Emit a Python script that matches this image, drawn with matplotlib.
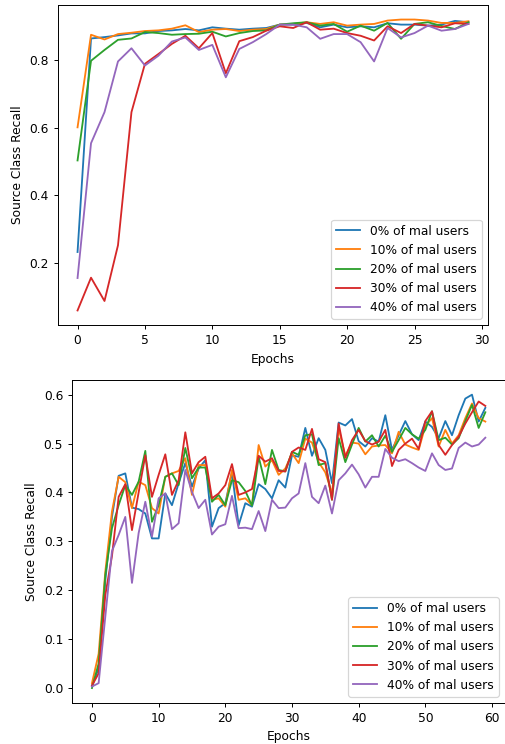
import matplotlib
matplotlib.use("Agg")
import matplotlib.pyplot as plt
import numpy as np

labels = ["0% of mal users", "10% of mal users", "20% of mal users",
          "30% of mal users", "40% of mal users"]

# Upper chart: 30 epochs
epochs_top = np.arange(30)
top_0 = [0.232, 0.864, 0.868, 0.873, 0.879, 0.879, 0.886, 0.888, 0.892, 0.888,
         0.897, 0.893, 0.890, 0.893, 0.895, 0.905, 0.905, 0.910, 0.897, 0.905,
         0.897, 0.900, 0.897, 0.909, 0.905, 0.905, 0.902, 0.905, 0.916, 0.912]
top_10 = [0.601, 0.875, 0.861, 0.877, 0.881, 0.886, 0.888, 0.893, 0.903, 0.883,
          0.890, 0.892, 0.886, 0.890, 0.892, 0.905, 0.907, 0.912, 0.907, 0.912,
          0.902, 0.905, 0.907, 0.917, 0.920, 0.920, 0.917, 0.910, 0.910, 0.915]
top_20 = [0.503, 0.798, 0.830, 0.860, 0.864, 0.883, 0.880, 0.875, 0.877, 0.878,
          0.884, 0.870, 0.880, 0.886, 0.888, 0.905, 0.909, 0.912, 0.902, 0.907,
          0.884, 0.902, 0.887, 0.910, 0.863, 0.907, 0.912, 0.901, 0.892, 0.912]
top_30 = [0.059, 0.156, 0.087, 0.252, 0.646, 0.789, 0.818, 0.848, 0.872, 0.835,
          0.880, 0.761, 0.856, 0.868, 0.887, 0.900, 0.895, 0.912, 0.890, 0.893,
          0.880, 0.872, 0.858, 0.900, 0.880, 0.907, 0.902, 0.897, 0.909, 0.907]
top_40 = [0.155, 0.554, 0.646, 0.796, 0.835, 0.784, 0.813, 0.855, 0.867, 0.830,
          0.845, 0.749, 0.833, 0.853, 0.877, 0.905, 0.905, 0.897, 0.863, 0.877,
          0.877, 0.853, 0.796, 0.895, 0.867, 0.880, 0.902, 0.887, 0.892, 0.907]

# Lower chart: 60 epochs
epochs_bot = np.arange(60)
bot_0 = [0.005, 0.040, 0.220, 0.350, 0.434, 0.439, 0.369, 0.366, 0.357, 0.306,
         0.306, 0.398, 0.374, 0.419, 0.460, 0.412, 0.449, 0.466, 0.330, 0.368,
         0.378, 0.441, 0.333, 0.378, 0.371, 0.417, 0.407, 0.388, 0.425, 0.410,
         0.476, 0.473, 0.532, 0.475, 0.511, 0.487, 0.419, 0.543, 0.537, 0.550,
         0.505, 0.494, 0.511, 0.504, 0.558, 0.487, 0.517, 0.546, 0.519, 0.507,
         0.545, 0.534, 0.511, 0.546, 0.517, 0.558, 0.592, 0.600, 0.545, 0.573]
bot_10 = [0.010, 0.070, 0.238, 0.361, 0.432, 0.421, 0.368, 0.422, 0.415, 0.368,
          0.357, 0.432, 0.439, 0.444, 0.470, 0.395, 0.456, 0.456, 0.385, 0.388,
          0.371, 0.446, 0.385, 0.388, 0.374, 0.497, 0.453, 0.466, 0.436, 0.449,
          0.480, 0.460, 0.510, 0.502, 0.462, 0.441, 0.398, 0.531, 0.475, 0.502,
          0.500, 0.478, 0.494, 0.496, 0.497, 0.480, 0.524, 0.498, 0.492, 0.487,
          0.536, 0.552, 0.494, 0.528, 0.500, 0.517, 0.552, 0.582, 0.552, 0.545]
bot_20 = [0.000, 0.050, 0.231, 0.327, 0.374, 0.415, 0.395, 0.422, 0.485, 0.340,
          0.374, 0.432, 0.439, 0.415, 0.491, 0.429, 0.451, 0.451, 0.381, 0.395,
          0.374, 0.425, 0.421, 0.403, 0.373, 0.473, 0.417, 0.487, 0.446, 0.443,
          0.483, 0.477, 0.517, 0.519, 0.456, 0.460, 0.385, 0.511, 0.462, 0.498,
          0.532, 0.504, 0.517, 0.494, 0.516, 0.483, 0.507, 0.532, 0.519, 0.510,
          0.528, 0.566, 0.507, 0.512, 0.498, 0.511, 0.546, 0.579, 0.532, 0.564]
bot_30 = [0.005, 0.030, 0.190, 0.270, 0.391, 0.417, 0.323, 0.400, 0.476, 0.391,
          0.436, 0.478, 0.395, 0.425, 0.523, 0.439, 0.462, 0.473, 0.388, 0.398,
          0.415, 0.458, 0.395, 0.400, 0.407, 0.475, 0.463, 0.470, 0.444, 0.443,
          0.483, 0.492, 0.487, 0.530, 0.468, 0.462, 0.385, 0.541, 0.471, 0.507,
          0.528, 0.505, 0.498, 0.504, 0.528, 0.454, 0.487, 0.500, 0.510, 0.489,
          0.546, 0.566, 0.497, 0.477, 0.497, 0.514, 0.541, 0.564, 0.586, 0.577]
bot_40 = [0.003, 0.010, 0.146, 0.280, 0.313, 0.350, 0.215, 0.317, 0.381, 0.310,
          0.388, 0.398, 0.325, 0.337, 0.446, 0.401, 0.368, 0.385, 0.314, 0.330,
          0.335, 0.393, 0.327, 0.328, 0.325, 0.362, 0.321, 0.385, 0.368, 0.369,
          0.388, 0.398, 0.460, 0.391, 0.378, 0.414, 0.357, 0.425, 0.439, 0.457,
          0.437, 0.410, 0.432, 0.432, 0.489, 0.471, 0.464, 0.468, 0.460, 0.451,
          0.444, 0.480, 0.456, 0.446, 0.449, 0.491, 0.502, 0.494, 0.498, 0.512]

# The reference looks like a slightly shrunk default-style figure
scale = 0.88
plt.rcParams.update({
    "font.size": 10 * scale,
    "lines.linewidth": 1.5 * scale,
    "axes.linewidth": 0.8 * scale,
    "xtick.major.size": 3.5 * scale,
    "ytick.major.size": 3.5 * scale,
    "xtick.major.width": 0.8 * scale,
    "ytick.major.width": 0.8 * scale,
    "patch.linewidth": 1.0 * scale,
})


def plot_recall(ax, epochs, series):
    """
    Plot one recall curve per share of malicious users on an ax object
    """
    for values, label in zip(series, labels):
        ax.plot(epochs, values, label=label)
    ax.set_xlabel("Epochs")
    ax.set_ylabel("Source Class Recall")
    ax.legend(loc="lower right")


W, H = 506, 744
fig = plt.figure(figsize=(W / 100, H / 100), dpi=100)

# Axes boxes in pixels: left, top, right, bottom
ax_top = fig.add_axes([58 / W, 1 - 325 / H, (488 - 58) / W, (325 - 5) / H])
ax_bot = fig.add_axes([72.3 / W, 1 - 702.7 / H, (505 - 72.3) / W, (702.7 - 380) / H])

plot_recall(ax_top, epochs_top, [top_0, top_10, top_20, top_30, top_40])
plot_recall(ax_bot, epochs_bot, [bot_0, bot_10, bot_20, bot_30, bot_40])

fig.savefig("out.png", dpi=100)
